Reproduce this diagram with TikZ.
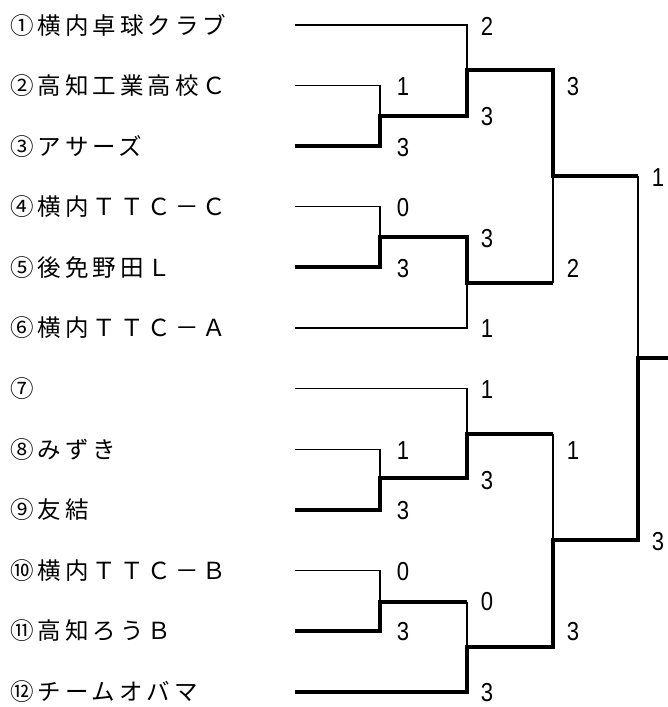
\documentclass[tikz,border=0pt]{standalone}
\usepackage{fontspec}
\newfontfamily\jpfont[LetterSpace=17]{Noto Sans CJK JP}
\newfontfamily\numfont[FakeStretch=0.85]{Liberation Sans}
\usetikzlibrary{calc}

\begin{document}
\begin{tikzpicture}[x=1pt,y=-1pt,
    team/.style={anchor=west,inner sep=0pt,font=\jpfont\fontsize{23.5}{28}\selectfont},
    score/.style={inner sep=0pt,font=\numfont\fontsize{26}{30}\selectfont},
    lose/.style={line width=1.3pt},
    win/.style={line width=4pt}]
    \useasboundingbox (0,0) rectangle (667,707);
    % teams, and where their lines start
    \foreach \i/\name in {1/①横内卓球クラブ, 2/②高知工業高校Ｃ, 3/③アサーズ, 4/④横内ＴＴＣ－Ｃ, 5/⑤後免野田Ｌ, 6/⑥横内ＴＴＣ－Ａ, 7/⑦, 8/⑧みずき, 9/⑨友結, 10/⑩横内ＴＴＣ－Ｂ, 11/⑪高知ろうＢ, 12/⑫チームオバマ}{
        \node[team] (t\i) at (10,{25+60.6*(\i-1)}) {\name};
        \coordinate (s\i) at (295,{25+60.6*(\i-1)});
    }
    % matches
    \coordinate (mA) at (380,116); \coordinate (mB) at (467,70);
    \coordinate (mC) at (380,237); \coordinate (mD) at (467,283);
    \coordinate (mE) at (553,176);
    \coordinate (mF) at (380,478); \coordinate (mG) at (467,434);
    \coordinate (mH) at (380,602); \coordinate (mI) at (467,647);
    \coordinate (mJ) at (553,540);
    \coordinate (mK) at (638,358); \coordinate (champ) at (670,358);
    % lost
    \draw[lose] (s1) -| (mB) (s2) -| (mA) (s4) -| (mC) (s6) -| (mD) (s7) -| (mG) (s8) -| (mF) (s10) -| (mH);
    \draw[lose] (mD -| mE) -- (mE) (mG -| mJ) -- (mJ) (mH -| mI) -- (mI) (mE -| mK) -- (mK);
    % won
    \draw[win] (s3) -| (mA) -| (mB) -| (mE) -- (mE -| mK);
    \draw[win] (s5) -| (mC) -| (mD) -- (mD -| mE);
    \draw[win] (s9) -| (mF) -| (mG) -- (mG -| mJ);
    \draw[win] (s11) -| (mH) -- (mH -| mI);
    \draw[win] (s12) -| (mI) -| (mJ) -| (mK) -- (champ);
    % scores
    \foreach \n/\x/\k/\s in {a1/403/2/1, a2/403/4/3, b1/487/0/2, b2/487/3/3, c1/403/6/0, c2/403/8/3, d1/487/7/3, d2/487/10/1, e1/573/2/3, e2/573/8/2, f1/403/14/1, f2/403/16/3, g1/487/12/1, g2/487/15/3, h1/403/18/0, h2/403/20/3, i1/487/19/0, i2/487/22/3, j1/573/14/1, j2/573/20/3, k1/658/5/1, k2/658/17/3}
        \node[score] (\n) at (\x,{26+30.3*\k}) {\s};
\end{tikzpicture}
\end{document}
